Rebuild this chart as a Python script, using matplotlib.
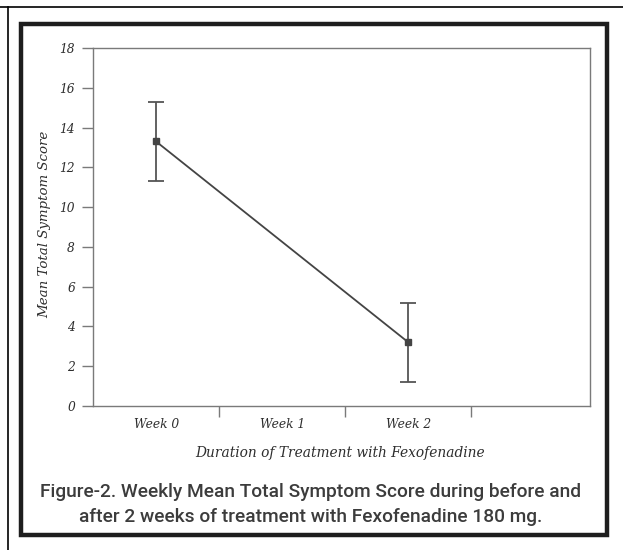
import matplotlib
matplotlib.use("Agg")
import matplotlib.pyplot as plt
from matplotlib import font_manager
from matplotlib.patches import Rectangle
from matplotlib.lines import Line2D

weeks = ["Week 0", "Week 1", "Week 2"]
week_pos = [0, 1, 2]
data_pos = [0, 2]
means = [13.3, 3.2]
errors = [2.0, 2.0]
yticks = [0, 2, 4, 6, 8, 10, 12, 14, 16, 18]

names = {f.name for f in font_manager.fontManager.ttflist}
capfont = "Roboto" if "Roboto" in names else "Liberation Sans"
serif = "DejaVu Serif"

txt = "#2e2e2e"
axc = "#7a7a7a"

fig = plt.figure(figsize=(6.23, 5.5), dpi=100)
W, H = 623, 550

# outer thin lines
fig.add_artist(Line2D([0, 1], [1 - 7 / H, 1 - 7 / H], color="black", lw=1.2, transform=fig.transFigure))
fig.add_artist(Line2D([8 / W, 8 / W], [0, 1 - 7 / H], color="black", lw=1.2, transform=fig.transFigure))
# thick frame
fig.add_artist(Rectangle((20.5 / W, 1 - 534.5 / H), (606.5 - 20.5) / W, (534.5 - 23.5) / H,
                         fill=False, ec="#1e1e1e", lw=3.2, transform=fig.transFigure))

ax = fig.add_axes([93 / W, 1 - 406 / H, (590 - 93) / W, (406 - 48) / H])
ax.plot(data_pos, means, color="#444444", lw=1.3, zorder=2)
ax.errorbar(data_pos, means, yerr=errors, fmt="s", ms=5, color="#444444",
            ecolor="#555555", elinewidth=1.3, capsize=6, capthick=1.3, zorder=3)

ax.set_xlim(-0.5, 3.44)
ax.set_ylim(0, 18)
ax.set_yticks(yticks)
ax.set_yticklabels([str(v) for v in yticks], family=serif, style="italic", fontsize=8.8, color=txt)
ax.set_xticks(week_pos)
ax.set_xticklabels(weeks, family=serif, style="italic", fontsize=8.8, color=txt)
ax.set_xticks([0.5, 1.5, 2.5], minor=True)
ax.tick_params(axis="x", which="major", length=0, pad=9)
ax.tick_params(axis="x", which="minor", length=8, width=1, color=axc, direction="out")
ax.tick_params(axis="y", length=8, width=1, color=axc, direction="out", pad=5)
for s in ax.spines.values():
    s.set_color(axc)
    s.set_linewidth(1.0)

ax.set_ylabel("Mean Total Symptom Score", family=serif, style="italic", fontsize=9.6,
              color=txt)
ax.yaxis.set_label_coords((45 - 93) / 497, (406 - 224) / 358)
ax.set_xlabel("Duration of Treatment with Fexofenadine", family=serif, style="italic",
              fontsize=9.9, color=txt)
ax.xaxis.set_label_coords((340 - 93) / 497, (406 - 453) / 358)
ax.xaxis.label.set_va("center")
ax.yaxis.label.set_va("center")

fig.text(311 / W, 1 - 492 / H, "Figure-2. Weekly Mean Total Symptom Score during before and",
         family=capfont, fontweight="medium", fontsize=13.8, color="#3c3c3c", ha="center", va="center")
fig.text(311 / W, 1 - 517 / H, "after 2 weeks of treatment with Fexofenadine 180 mg.",
         family=capfont, fontweight="medium", fontsize=13.8, color="#3c3c3c", ha="center", va="center")

fig.savefig("out.png", dpi=100)
